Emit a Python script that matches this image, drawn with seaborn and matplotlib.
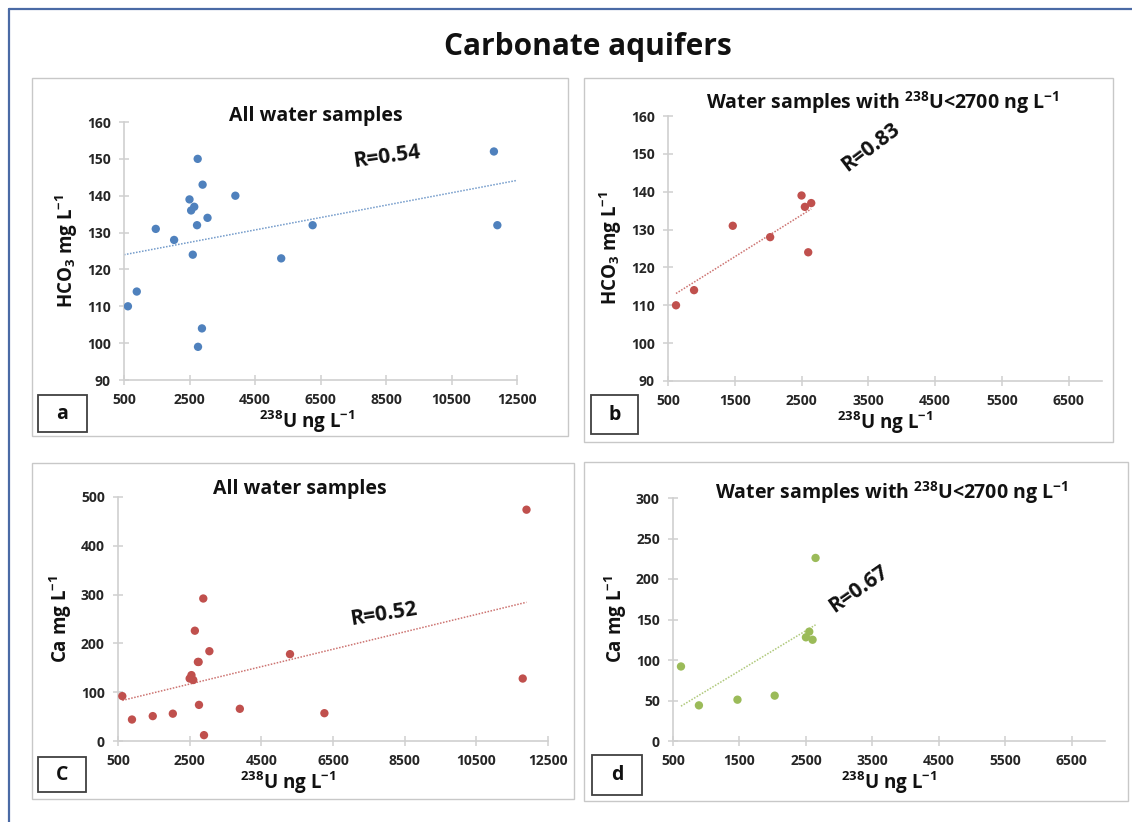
import matplotlib
matplotlib.use("Agg")
import matplotlib.pyplot as plt
from matplotlib.patches import Rectangle
from matplotlib.lines import Line2D
import seaborn as sns
import pandas as pd

# 238U, HCO3 and Ca for each water sample
u238 = [620, 890, 1470, 2030, 2500, 2550, 2600, 2645, 2730, 2750, 2760,
        2880, 2900, 3050, 3900, 5300, 6260, 11795, 11900]
hco3 = [110, 114, 131, 128, 139, 136, 124, 137, 132, 150, 99,
        104, 143, 134, 140, 123, 132, 152, 132]
ca = [92, 44, 51, 56, 128, 135, 125, 226, 162, 162, 74,
      292, 12, 184, 66, 178, 57, 128, 474]

u_limit = 2700
r_labels = ["R=0.54", "R=0.83", "R=0.52", "R=0.67"]
panel_letters = ["a", "b", "C", "d"]
title_all = "All water samples"
title_low = "Water samples with $^{238}$U<2700 ng L$^{-1}$"

df = pd.DataFrame({"U": u238, "HCO3": hco3, "Ca": ca})
low = df[df["U"] < u_limit]

sns.set_theme(style="white")
plt.rcParams["font.family"] = ["Open Sans", "DejaVu Sans"]
plt.rcParams["font.weight"] = "bold"
plt.rcParams["mathtext.fontset"] = "custom"
plt.rcParams["mathtext.bf"] = "Open Sans:bold"
plt.rcParams["mathtext.rm"] = "Open Sans:bold"
plt.rcParams["mathtext.default"] = "bf"

W, H = 1132, 822
fig = plt.figure(figsize=(W / 100, H / 100), dpi=100)
fig.patch.set_facecolor("white")


def px_rect(x0, y0, x1, y1):
    return [x0 / W, 1 - y1 / H, (x1 - x0) / W, (y1 - y0) / H]


# outer frame (top and left edges only visible)
fig.add_artist(Line2D([9 / W, 1], [1 - 9 / H, 1 - 9 / H], color="#4a6aa5", lw=1.6))
fig.add_artist(Line2D([9 / W, 9 / W], [0, 1 - 9 / H], color="#4a6aa5", lw=1.6))

fig.text(588 / W, 1 - 47 / H, "Carbonate aquifers", ha="center", va="center",
         fontsize=21.5, fontweight="bold", color="#111111")

panel_boxes = [(32, 78, 568, 436), (584, 78, 1113, 442),
               (32, 463, 574, 799), (584, 462, 1128, 801)]
letter_boxes = [(38, 395, 87, 432), (591, 395, 638, 434),
                (38, 757, 86, 792), (592, 755, 642, 795)]
for (x0, y0, x1, y1) in panel_boxes:
    fig.add_artist(Rectangle((x0 / W, 1 - y1 / H), (x1 - x0) / W, (y1 - y0) / H,
                             transform=fig.transFigure, fill=False,
                             edgecolor="#c8c8c8", lw=1.0))
for (x0, y0, x1, y1), letter in zip(letter_boxes, panel_letters):
    fig.add_artist(Rectangle((x0 / W, 1 - y1 / H), (x1 - x0) / W, (y1 - y0) / H,
                             transform=fig.transFigure, fill=False,
                             edgecolor="#404040", lw=1.3))
    fig.text((x0 + x1) / 2 / W, 1 - (y0 + y1) / 2 / H, letter, ha="center",
             va="center", fontsize=14, fontweight="bold", color="#111111")

panels = [
    dict(rect=(124, 122, 517, 380), data=df, y="HCO3", color="#4f81bd",
         xlim=(500, 12500), xticks=range(500, 12501, 2000),
         ylim=(90, 160), yticks=range(90, 161, 10), truncate=False,
         ylabel="HCO$_3$ mg L$^{-1}$", xlabel_x=0.466, title=title_all,
         title_xy=(316, 116), r_xy=(387, 157), r_rot=8),
    dict(rect=(668, 116, 1102, 381), data=low, y="HCO3", color="#c0504d",
         xlim=(500, 7000), xticks=range(500, 6501, 1000),
         ylim=(90, 160), yticks=range(90, 161, 10), truncate=True,
         ylabel="HCO$_3$ mg L$^{-1}$", xlabel_x=0.5, title=title_low,
         title_xy=(882, 103), r_xy=(871, 147), r_rot=37),
    dict(rect=(118, 497, 548, 741), data=df, y="Ca", color="#c0504d",
         xlim=(500, 12500), xticks=range(500, 12501, 2000),
         ylim=(0, 500), yticks=range(0, 501, 100), truncate=True,
         ylabel="Ca mg L$^{-1}$", xlabel_x=0.395, title=title_all,
         title_xy=(300, 489), r_xy=(384, 614), r_rot=9),
    dict(rect=(673, 498, 1105, 741), data=low, y="Ca", color="#9bbb59",
         xlim=(500, 7000), xticks=range(500, 6501, 1000),
         ylim=(0, 300), yticks=range(0, 301, 50), truncate=True,
         ylabel="Ca mg L$^{-1}$", xlabel_x=0.5, title=title_low,
         title_xy=(891, 493), r_xy=(859, 589), r_rot=35),
]

for p, r_text in zip(panels, r_labels):
    ax = fig.add_axes(px_rect(*p["rect"]))
    ax.set_xlim(*p["xlim"])
    ax.set_ylim(*p["ylim"])
    sns.scatterplot(data=p["data"], x="U", y=p["y"], ax=ax, color=p["color"],
                    s=36, edgecolor="none", zorder=3)
    sns.regplot(data=p["data"], x="U", y=p["y"], ax=ax, scatter=False, ci=None,
                truncate=p["truncate"], color=p["color"],
                line_kws=dict(lw=1.1, linestyle=(0, (1, 1)), alpha=0.8))
    ax.set_xlim(*p["xlim"])
    ax.set_ylim(*p["ylim"])
    ax.set_xticks(list(p["xticks"]))
    ax.set_yticks(list(p["yticks"]))
    ax.set_facecolor("none")
    for side in ["top", "right"]:
        ax.spines[side].set_visible(False)
    for side in ["left", "bottom"]:
        ax.spines[side].set_color("#d0d0d0")
        ax.spines[side].set_linewidth(1.2)
    ax.tick_params(direction="inout", length=7, width=1.1, color="#d0d0d0",
                   labelsize=10, labelcolor="#262626", pad=6,
                   bottom=True, left=True)
    for lab in ax.get_xticklabels() + ax.get_yticklabels():
        lab.set_fontweight("bold")
    ax.set_xlabel("$^{238}$U ng L$^{-1}$", fontsize=13.5, fontweight="bold",
                  color="#111111")
    ax_h = p["rect"][3] - p["rect"][1]
    ax.xaxis.set_label_coords(p["xlabel_x"], -28 / ax_h)
    ax.set_ylabel(p["ylabel"], fontsize=13.5, fontweight="bold", color="#111111",
                  labelpad=5)
    fig.text(p["title_xy"][0] / W, 1 - p["title_xy"][1] / H, p["title"],
             ha="center", va="center", fontsize=14, fontweight="bold",
             color="#111111")
    fig.text(p["r_xy"][0] / W, 1 - p["r_xy"][1] / H, r_text, ha="center",
             va="center", fontsize=15, fontweight="bold", color="#111111",
             rotation=p["r_rot"], rotation_mode="anchor")

fig.savefig("out.png", dpi=100, facecolor="white")
